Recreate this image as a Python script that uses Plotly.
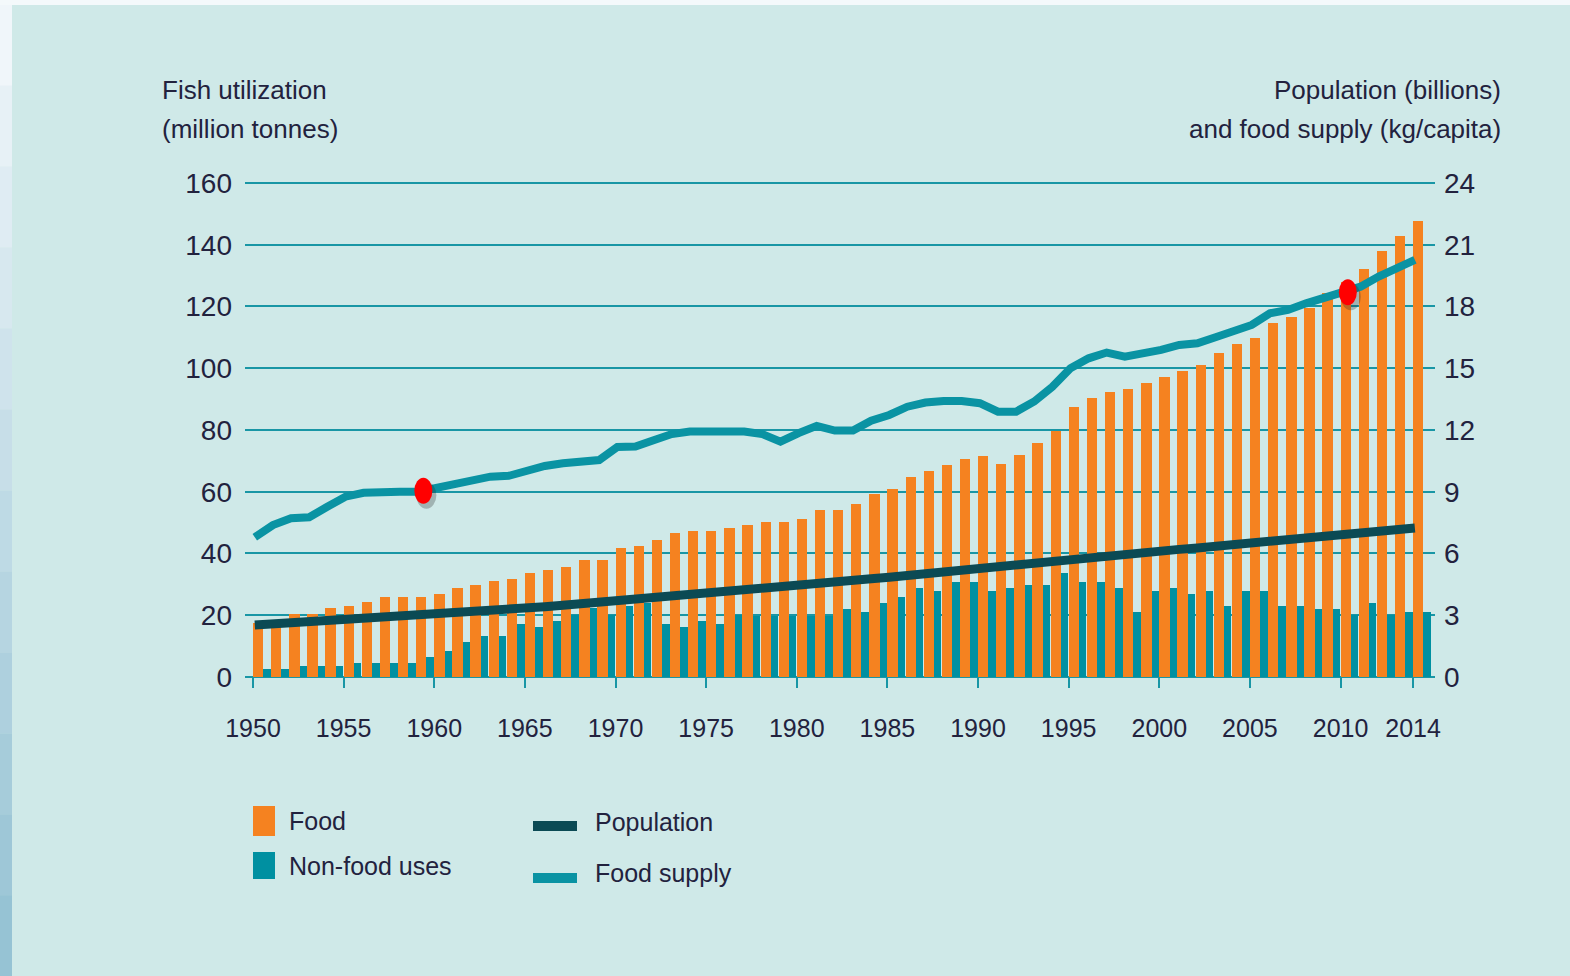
import plotly.graph_objects as go

# ---- data -------------------------------------------------------------
years = list(range(1950, 2015))

# Fish utilization, million tonnes
food = [
    17.5, 17.5, 20.3, 20.3, 22.2, 23.1, 24.2, 26.0, 26.0, 26.0,
    27.0, 28.9, 29.9, 31.0, 31.8, 33.8, 34.8, 35.7, 37.8, 37.8,
    41.7, 42.5, 44.5, 46.5, 47.4, 47.4, 48.4, 49.3, 50.3, 50.3,
    51.3, 54.2, 54.2, 56.1, 59.2, 61.0, 64.9, 66.8, 68.8, 70.7,
    71.7, 68.9, 71.8, 75.7, 79.7, 87.3, 90.3, 92.2, 93.2, 95.1,
    97.1, 99.1, 101.1, 104.8, 107.9, 109.7, 114.6, 116.7, 119.4, 124.3,
    128.0, 132.0, 138.0, 142.8, 147.7,
]
non_food = [
    2.6, 2.6, 3.7, 3.7, 3.7, 4.5, 4.5, 4.5, 4.5, 6.5,
    8.4, 11.4, 13.4, 13.4, 17.2, 16.3, 18.1, 20.1, 22.2, 20.1,
    23.0, 23.9, 17.2, 16.2, 18.1, 17.2, 20.1, 19.9, 19.9, 19.9,
    19.9, 19.9, 22.0, 20.9, 24.0, 25.9, 28.7, 27.9, 30.7, 30.7,
    27.9, 28.9, 29.8, 29.8, 33.8, 30.9, 30.9, 28.9, 21.2, 27.9,
    28.9, 26.9, 27.9, 23.0, 28.0, 28.0, 23.0, 23.0, 21.9, 21.9,
    20.1, 23.9, 20.1, 20.9, 20.9,
]

# Population, billions
population = [
    2.53, 2.58, 2.63, 2.68, 2.73, 2.77, 2.82, 2.87, 2.93, 2.98,
    3.03, 3.08, 3.14, 3.21, 3.27, 3.34, 3.41, 3.48, 3.55, 3.62,
    3.70, 3.77, 3.85, 3.92, 4.00, 4.07, 4.14, 4.22, 4.29, 4.37,
    4.44, 4.52, 4.60, 4.68, 4.77, 4.85, 4.94, 5.03, 5.12, 5.21,
    5.31, 5.39, 5.48, 5.56, 5.64, 5.72, 5.80, 5.88, 5.96, 6.04,
    6.12, 6.20, 6.27, 6.35, 6.43, 6.51, 6.59, 6.67, 6.75, 6.83,
    6.92, 7.00, 7.08, 7.16, 7.24,
]

# Food supply, kg per capita
food_supply = [
    6.79, 7.38, 7.71, 7.76, 8.27, 8.76, 8.95, 9.00, 9.00, 9.00,
    9.17, 9.33, 9.49, 9.73, 9.77, 10.06, 10.25, 10.38, 10.49, 10.54,
    11.17, 11.20, 11.50, 11.80, 11.92, 11.92, 11.92, 11.92, 11.80, 11.43,
    11.85, 12.20, 11.97, 11.97, 12.45, 12.73, 13.13, 13.33, 13.41, 13.41,
    13.30, 12.89, 12.89, 13.38, 14.10, 15.00, 15.48, 15.76, 15.56, 15.69,
    15.89, 16.13, 16.21, 16.50, 16.78, 17.10, 17.67, 17.83, 18.15, 18.40,
    18.64, 18.96, 19.45, 19.86, 20.26,
]

highlight_years = [1959, 2010]

y_left_ticks = [0, 20, 40, 60, 80, 100, 120, 140, 160]
y_right_ticks = [0, 3, 6, 9, 12, 15, 18, 21, 24]
x_tick_vals = [1950, 1955, 1960, 1965, 1970, 1975, 1980, 1985, 1990,
               1995, 2000, 2005, 2010, 2014]
x_tick_text = [str(v) for v in x_tick_vals]

# ---- styling ----------------------------------------------------------
BG = "#cfe9e8"
GRID = "#1996a5"
ORANGE = "#f58220"
TEAL = "#0090a1"
SUPPLY = "#0a93a3"
POP = "#0b4a54"
TEXT = "#22223e"
FONT = "Liberation Sans, Arial, sans-serif"

W, H = 1570, 976
L, R, T, B = 245, 1435, 182, 677  # plot area in pixels
Y_TOP = 160.3                     # a hair above the last tick


def px(xp):
    return (xp - L) / (R - L)


def py(yp):
    return (B - yp) / (B - T)


line_x = [y + 0.1 for y in years]

fig = go.Figure()

# Non-food bars sit behind the narrower food bars
fig.add_trace(go.Bar(
    x=years, y=non_food, width=0.98, offset=0,
    marker=dict(color=TEAL, line=dict(width=0)),
    name="Non-food uses", showlegend=False,
))
fig.add_trace(go.Bar(
    x=years, y=food, width=0.57, offset=0,
    marker=dict(color=ORANGE, line=dict(width=0)),
    name="Food", showlegend=False,
))
fig.add_trace(go.Scatter(
    x=line_x, y=population, yaxis="y2", mode="lines",
    line=dict(color=POP, width=9),
    name="Population", showlegend=False,
))
fig.add_trace(go.Scatter(
    x=line_x, y=food_supply, yaxis="y2", mode="lines",
    line=dict(color=SUPPLY, width=8),
    name="Food supply", showlegend=False,
))

shapes = []

# frame strips around the panel
shapes.append(dict(type="rect", xref="paper", yref="paper",
                   x0=px(0), x1=px(W), y0=py(5), y1=py(0),
                   fillcolor="#f4f9fb", line=dict(width=0), layer="below"))
n_strip = 12
for i in range(n_strip):
    y0p = 5 + i * (H - 5) / n_strip
    y1p = 5 + (i + 1) * (H - 5) / n_strip
    t = i / (n_strip - 1)
    r = int(240 - t * (240 - 150))
    g = int(246 - t * (246 - 195))
    b = int(250 - t * (250 - 212))
    shapes.append(dict(type="rect", xref="paper", yref="paper",
                       x0=px(0), x1=px(12), y0=py(y1p), y1=py(y0p),
                       fillcolor=f"rgb({r},{g},{b})", line=dict(width=0),
                       layer="below"))

# top gridline, which the axis leaves out at the edge of the range
shapes.append(dict(type="line", xref="paper", yref="y",
                   x0=0, x1=1, y0=y_left_ticks[-1], y1=y_left_ticks[-1],
                   line=dict(color=GRID, width=2), layer="below"))

# highlighted points on the food supply line
for hy in highlight_years:
    idx = years.index(hy)
    xa, ya = line_x[idx] + 0.3, food_supply[idx]
    shapes.append(dict(type="circle", xref="x", yref="y2",
                       xsizemode="pixel", ysizemode="pixel",
                       xanchor=xa, yanchor=ya,
                       x0=-7, x1=13, y0=-17, y1=10,
                       fillcolor="rgba(40,40,40,0.28)", line=dict(width=0)))
    shapes.append(dict(type="circle", xref="x", yref="y2",
                       xsizemode="pixel", ysizemode="pixel",
                       xanchor=xa, yanchor=ya,
                       x0=-9, x1=9, y0=-12, y1=14,
                       fillcolor="#ff0000", line=dict(width=0)))

# legend swatches
shapes += [
    dict(type="rect", xref="paper", yref="paper",
         x0=px(253), x1=px(275), y0=py(836), y1=py(806),
         fillcolor=ORANGE, line=dict(width=0)),
    dict(type="rect", xref="paper", yref="paper",
         x0=px(253), x1=px(275), y0=py(879), y1=py(852),
         fillcolor=TEAL, line=dict(width=0)),
    dict(type="rect", xref="paper", yref="paper",
         x0=px(533), x1=px(577), y0=py(831), y1=py(821),
         fillcolor=POP, line=dict(width=0)),
    dict(type="rect", xref="paper", yref="paper",
         x0=px(533), x1=px(577), y0=py(883), y1=py(873),
         fillcolor=SUPPLY, line=dict(width=0)),
]


def label(text, x, y, xanchor, size):
    return dict(text=text, xref="paper", yref="paper", x=px(x), y=py(y),
                xanchor=xanchor, yanchor="middle", showarrow=False,
                font=dict(size=size, color=TEXT, family=FONT))


annotations = [
    label("Fish utilization", 160, 90, "left", 26),
    label("(million tonnes)", 160, 129, "left", 26),
    label("Population (billions)", 1503, 90, "right", 26),
    label("and food supply (kg/capita)", 1503, 129, "right", 26),
    label("Food", 287, 821, "left", 25),
    label("Non-food uses", 287, 866, "left", 25),
    label("Population", 593, 822, "left", 25),
    label("Food supply", 593, 873, "left", 25),
]

fig.update_layout(
    width=W, height=H,
    margin=dict(l=L, r=W - R, t=T, b=H - B, pad=0),
    paper_bgcolor=BG, plot_bgcolor=BG,
    barmode="overlay", bargap=0,
    font=dict(family=FONT, color=TEXT),
    showlegend=False,
    xaxis=dict(
        range=[1949.56, 2015.21],
        tickmode="array", tickvals=x_tick_vals, ticktext=x_tick_text,
        ticks="outside", ticklen=10, tickwidth=2, tickcolor=GRID,
        ticklabelstandoff=19,
        showgrid=False, zeroline=False, showline=False,
        tickfont=dict(size=25, color=TEXT, family=FONT),
    ),
    yaxis=dict(
        range=[0, Y_TOP], tickmode="array", tickvals=y_left_ticks,
        showgrid=True, gridcolor=GRID, gridwidth=2,
        zeroline=True, zerolinecolor=GRID, zerolinewidth=2,
        showline=False, ticks="", ticklabelstandoff=12,
        tickfont=dict(size=28, color=TEXT, family=FONT),
    ),
    yaxis2=dict(
        range=[0, Y_TOP * 24 / 160], tickmode="array", tickvals=y_right_ticks,
        overlaying="y", side="right",
        showgrid=False, zeroline=False, showline=False, ticks="",
        ticklabelstandoff=8,
        tickfont=dict(size=28, color=TEXT, family=FONT),
    ),
    shapes=shapes,
    annotations=annotations,
)

fig.write_html("out.html")
